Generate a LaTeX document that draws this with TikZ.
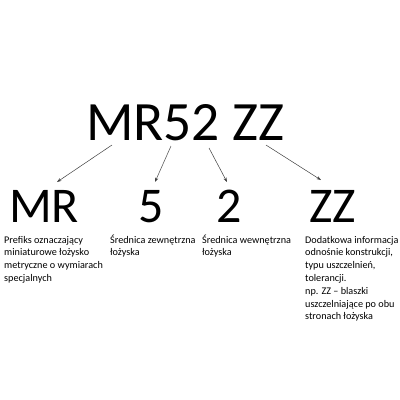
\documentclass[tikz,border=0pt]{standalone}
\usepackage{fontspec}
\setmainfont{Carlito}
\usetikzlibrary{arrows.meta}
\newcommand{\lines}[1]{\begin{tabular}[t]{@{}l@{}}#1\end{tabular}}
\begin{document}
\begin{tikzpicture}[x=1pt,y=-1pt,
  big/.style={inner sep=0pt,anchor=base west,font=\fontsize{55.5}{60}\selectfont},
  mid/.style={inner sep=0pt,anchor=base west,font=\fontsize{50}{54}\selectfont},
  desc/.style={inner sep=0pt,anchor=base west,font=\fontsize{10.2}{12.8}\selectfont},
  conn/.style={draw=black!75,line width=0.5pt,-{Stealth[length=4.5pt,width=3.2pt]}}]
\useasboundingbox[fill=white] (0,0) rectangle (400,400);
\node[big] (top) at (86,140) {MR52 ZZ};
\node[mid] (mr) at (9,222) {MR};
\node[mid] (five) at (138,222) {5};
\node[mid] (two) at (216,222) {2};
\node[mid] (zz) at (309,222) {ZZ};
\node[desc] (d1) at (4,243) {\lines{Prefiks oznaczający\\miniaturowe łożysko\\metryczne o wymiarach\\specjalnych}};
\node[desc] (d2) at (110,243) {\lines{Średnica zewnętrzna\\łożyska}};
\node[desc] (d3) at (202,243) {\lines{Średnica wewnętrzna\\łożyska}};
\node[desc] (d4) at (305,243) {\lines{Dodatkowa informacja\\odnośnie konstrukcji,\\typu uszczelnień,\\tolerancji.\\np. ZZ -- blaszki\\uszczelniające po obu\\stronach łożyska}};
\coordinate (s1) at (112,145);
\coordinate (e1) at (57,182);
\coordinate (s2) at (171,146);
\coordinate (e2) at (155,182);
\coordinate (s3) at (209,148);
\coordinate (e3) at (227,182);
\coordinate (s4) at (266,145);
\coordinate (e4) at (321,180);
\draw[conn] (s1) -- (e1);
\draw[conn] (s2) -- (e2);
\draw[conn] (s3) -- (e3);
\draw[conn] (s4) -- (e4);
\end{tikzpicture}
\end{document}
